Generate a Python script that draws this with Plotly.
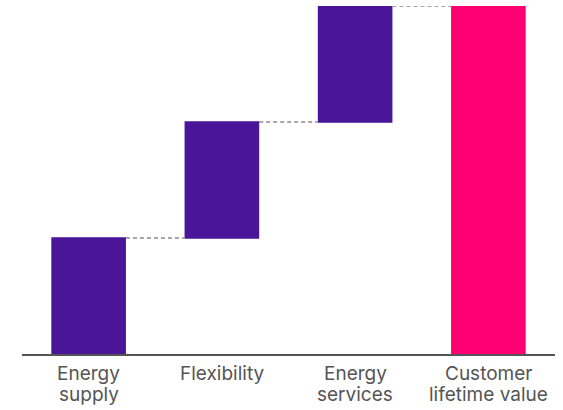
import plotly.graph_objects as go

categories = ["Energy supply", "Flexibility", "Energy services", "Customer lifetime value"]
label_lines = [["Energy", "supply"], ["Flexibility"], ["Energy", "services"], ["Customer", "lifetime value"]]
values = [1, 1, 1, 0]
measures = ["relative", "relative", "relative", "total"]

PURPLE = "#4A1599"
PINK = "#FF0073"
TEXT = "#555555"
FONT = "Inter, sans-serif"

fig = go.Figure(go.Waterfall(
    x=categories,
    y=values,
    measure=measures,
    width=0.56,
    increasing=dict(marker=dict(color=PURPLE)),
    decreasing=dict(marker=dict(color=PURPLE)),
    totals=dict(marker=dict(color=PINK)),
    connector=dict(line=dict(color="#8a8a8a", width=1.3, dash="4px,3px")),
    textinfo="none",
    hoverinfo="x+y",
))

# category labels, one annotation per line for tighter line spacing
line_offsets = [-19, -40]
for cat, lines in zip(categories, label_lines):
    for i, line in enumerate(lines):
        fig.add_annotation(
            x=cat, xref="x", y=0, yref="paper",
            text=line, showarrow=False,
            xanchor="center", yanchor="middle", yshift=line_offsets[i],
            font=dict(family=FONT, size=19, color=TEXT),
        )

fig.update_layout(
    width=563, height=410,
    margin=dict(l=22, r=8, t=6, b=56),
    paper_bgcolor="white", plot_bgcolor="white",
    showlegend=False,
    font=dict(family=FONT, size=19, color=TEXT),
    xaxis=dict(
        showline=True, linecolor=TEXT, linewidth=1.5,
        showgrid=False, ticks="", zeroline=False, showticklabels=False,
        range=[-0.5, 3.5],
    ),
    yaxis=dict(
        visible=False, range=[0, 3], showgrid=False, zeroline=False,
    ),
)

fig.write_html("out.html")
